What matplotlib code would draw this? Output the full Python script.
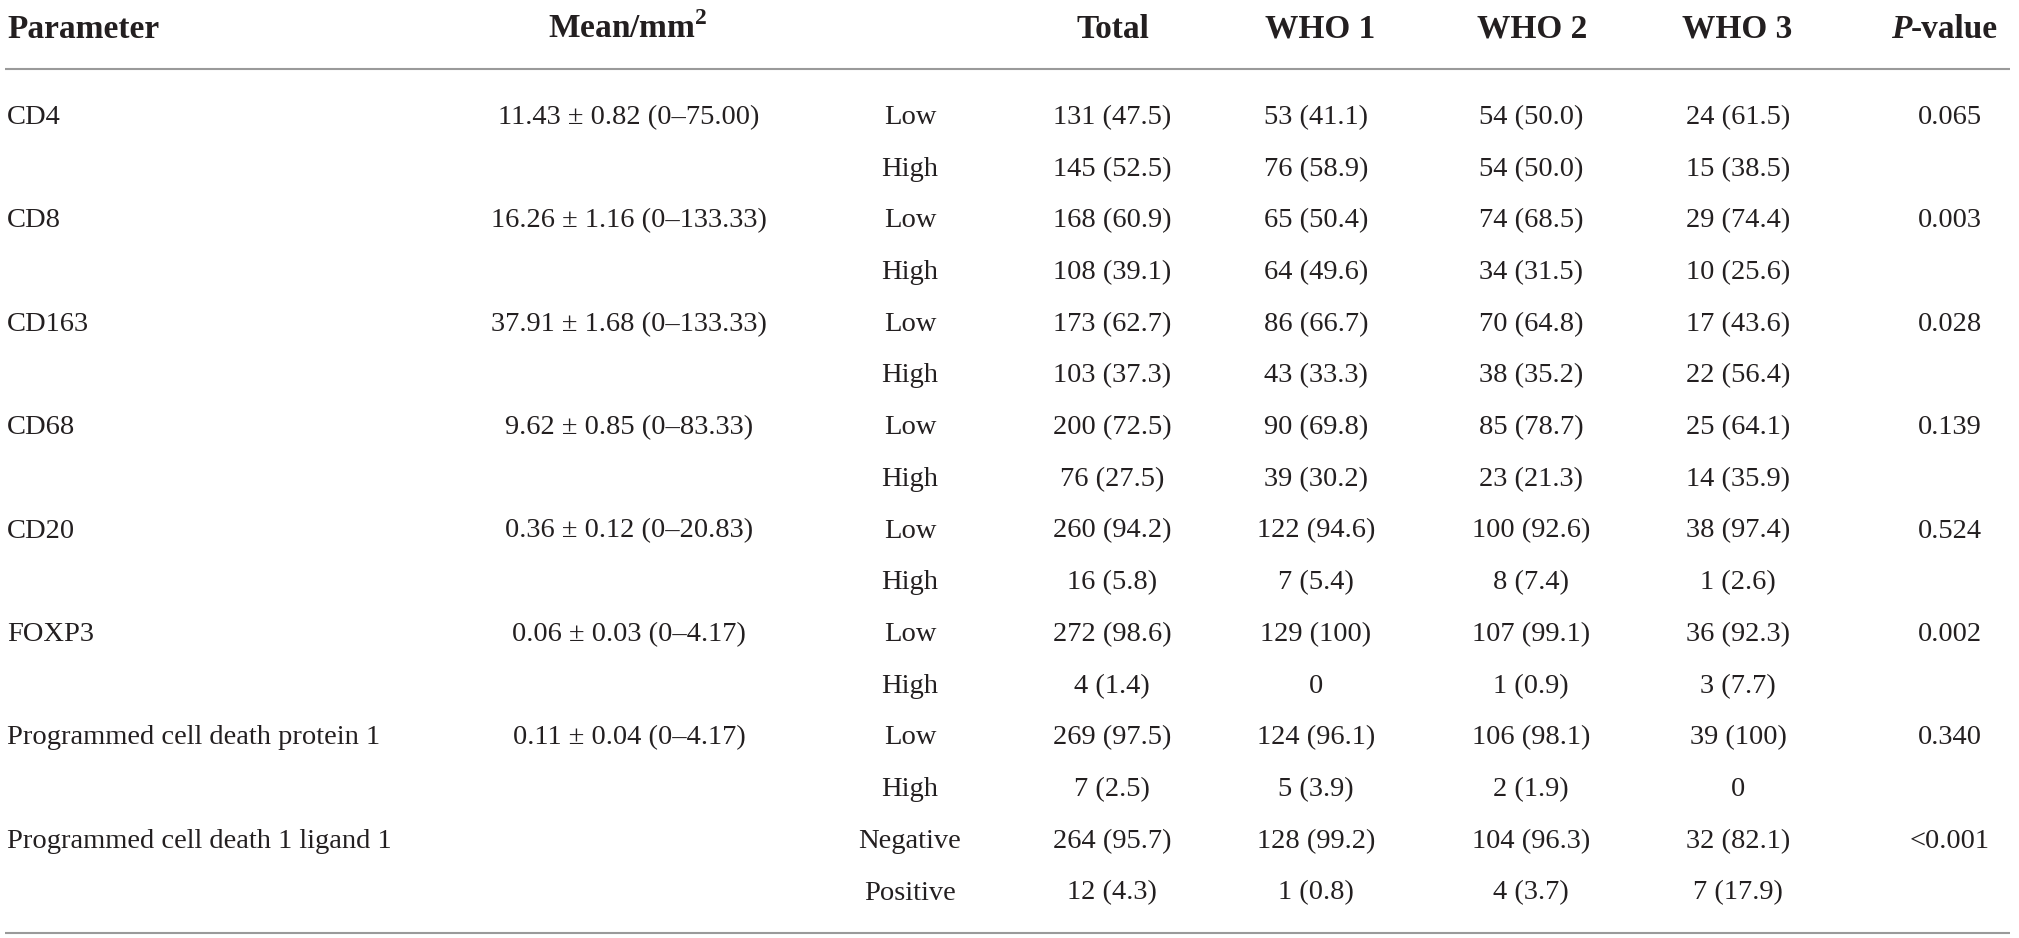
import matplotlib
matplotlib.use("Agg")
import matplotlib.pyplot as plt

plt.rcParams["font.family"] = ["Liberation Serif", "DejaVu Serif"]
plt.rcParams["mathtext.fontset"] = "custom"
plt.rcParams["mathtext.rm"] = "Liberation Serif"
plt.rcParams["mathtext.bf"] = "Liberation Serif:bold"

# table content
headers = ["Parameter", "Mean/mm$^{\\mathbf{2}}$", "", "Total", "WHO 1", "WHO 2", "WHO 3"]
params = ["CD4", "CD8", "CD163", "CD68", "CD20", "FOXP3",
          "Programmed cell death protein 1", "Programmed cell death 1 ligand 1"]
means = ["11.43 ± 0.82 (0–75.00)", "16.26 ± 1.16 (0–133.33)", "37.91 ± 1.68 (0–133.33)",
         "9.62 ± 0.85 (0–83.33)", "0.36 ± 0.12 (0–20.83)", "0.06 ± 0.03 (0–4.17)",
         "0.11 ± 0.04 (0–4.17)", ""]
levels = [["Low", "High"]] * 7 + [["Negative", "Positive"]]
total_n = [131, 145, 168, 108, 173, 103, 200, 76, 260, 16, 272, 4, 269, 7, 264, 12]
total_pct = [47.5, 52.5, 60.9, 39.1, 62.7, 37.3, 72.5, 27.5, 94.2, 5.8, 98.6, 1.4, 97.5, 2.5, 95.7, 4.3]
who1_n = [53, 76, 65, 64, 86, 43, 90, 39, 122, 7, 129, 0, 124, 5, 128, 1]
who1_pct = [41.1, 58.9, 50.4, 49.6, 66.7, 33.3, 69.8, 30.2, 94.6, 5.4, 100, None, 96.1, 3.9, 99.2, 0.8]
who2_n = [54, 54, 74, 34, 70, 38, 85, 23, 100, 8, 107, 1, 106, 2, 104, 4]
who2_pct = [50.0, 50.0, 68.5, 31.5, 64.8, 35.2, 78.7, 21.3, 92.6, 7.4, 99.1, 0.9, 98.1, 1.9, 96.3, 3.7]
who3_n = [24, 15, 29, 10, 17, 22, 25, 14, 38, 1, 36, 3, 39, 0, 32, 7]
who3_pct = [61.5, 38.5, 74.4, 25.6, 43.6, 56.4, 64.1, 35.9, 97.4, 2.6, 92.3, 7.7, 100, None, 82.1, 17.9]
p_values = ["0.065", "0.003", "0.028", "0.139", "0.524", "0.002", "0.340", "<0.001"]


def fmt(n, pct):
    if pct is None:
        return "%d" % n
    if pct == 100:
        return "%d (100)" % n
    return "%d (%.1f)" % (n, pct)


W, H = 2019, 938
fig = plt.figure(figsize=(W / 100, H / 100), dpi=100)
ax = fig.add_axes([0, 0, 1, 1])
ax.set_xlim(0, W)
ax.set_ylim(H, 0)
ax.axis("off")

txt = "#231f20"
line_c = "#9a9a9a"
fs_h, fs = 24, 20.5

# header
y_h = 38
ax.text(7, y_h, headers[0], ha="left", va="baseline", fontsize=fs_h, fontweight="bold", color=txt)
ax.text(628, y_h, headers[1], ha="center", va="baseline", fontsize=fs_h, fontweight="bold", color=txt)
for x, h in zip([1113, 1320, 1532, 1737], headers[3:]):
    ax.text(x, y_h, h, ha="center", va="baseline", fontsize=fs_h, fontweight="bold", color=txt)
ax.text(1911, y_h, "P", ha="right", va="baseline", fontsize=fs_h, fontweight="bold",
        fontstyle="italic", color=txt)
ax.text(1911, y_h, "-value", ha="left", va="baseline", fontsize=fs_h, fontweight="bold", color=txt)

ax.plot([5, 2010], [69, 69], color=line_c, lw=1.5, solid_capstyle="butt")
ax.plot([5, 2010], [933, 933], color=line_c, lw=1.5, solid_capstyle="butt")

# body
y0, dy = 124, 51.7
for i in range(len(params)):
    y = y0 + 2 * i * dy
    ax.text(7, y, params[i], ha="left", va="baseline", fontsize=fs, color=txt)
    ax.text(629, y, means[i], ha="center", va="baseline", fontsize=fs, color=txt)
    ax.text(1950, y, p_values[i], ha="center", va="baseline", fontsize=fs, color=txt)
    for k in range(2):
        ax.text(910, y + k * dy, levels[i][k], ha="center", va="baseline", fontsize=fs, color=txt)

for j in range(len(total_n)):
    y = y0 + j * dy
    cells = [fmt(total_n[j], total_pct[j]), fmt(who1_n[j], who1_pct[j]),
             fmt(who2_n[j], who2_pct[j]), fmt(who3_n[j], who3_pct[j])]
    for x, c in zip([1112, 1316, 1531, 1738], cells):
        ax.text(x, y, c, ha="center", va="baseline", fontsize=fs, color=txt)

fig.savefig("out.png", dpi=100)
